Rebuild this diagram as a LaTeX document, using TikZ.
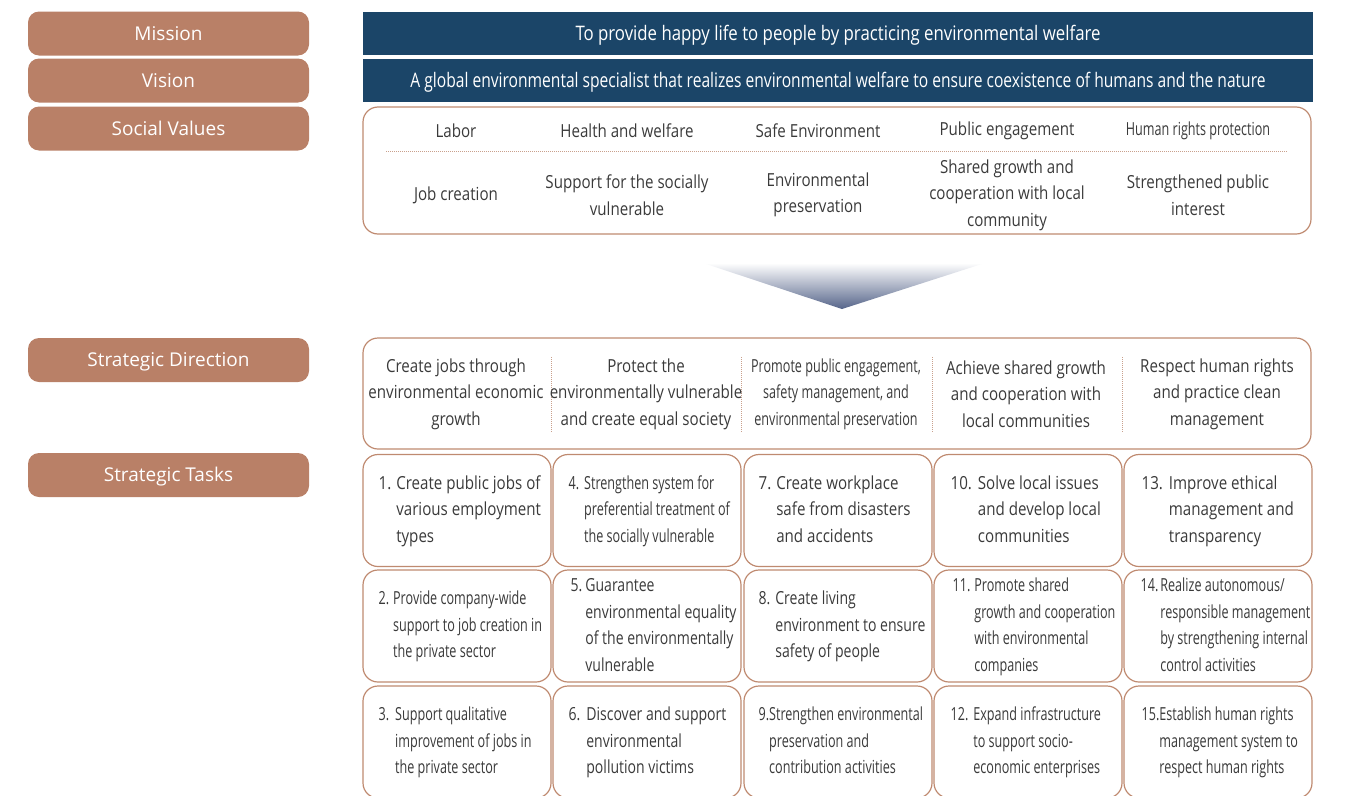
\documentclass[tikz,border=0pt]{standalone}
\usepackage{fontspec}
\setmainfont[FakeStretch=0.84]{Open Sans}
\newfontfamily\labelfont{Open Sans}
\newfontfamily\condfont[FakeStretch=0.78]{Open Sans}
\newfontfamily\narrowfont[FakeStretch=0.70]{Open Sans}
\usepackage{tikz}
\usetikzlibrary{positioning}
\definecolor{labelbrown}{HTML}{B98067}
\definecolor{framebrown}{HTML}{BF8A70}
\definecolor{navy}{HTML}{1B4568}
\definecolor{textgray}{HTML}{3A3A3A}
\definecolor{arrowblue}{HTML}{56658A}
\definecolor{dotbrown}{HTML}{C9A08C}

\begin{document}
\begin{tikzpicture}[x=1pt,y=-1pt,
	every node/.style={inner sep=0pt, text=textgray},
	headbox/.style={rounded corners=11pt, fill=labelbrown, minimum width=281pt, minimum height=44pt, text height=13.6pt, text depth=0pt, text=white, font=\labelfont\fontsize{19}{23}\selectfont},
	banner/.style={fill=navy, minimum width=950pt, minimum height=43pt, text height=14pt, text depth=0pt, text=white, font=\fontsize{20}{24}\selectfont},
	panel/.style={draw=framebrown, line width=1.2pt, rounded corners=15pt, minimum width=948pt},
	task/.style={draw=framebrown, line width=1.2pt, rounded corners=15pt, minimum width=188pt, minimum height=112pt},
	cell/.style={align=center, font=\fontsize{18}{26.5}\selectfont},
	tasktext/.style={font=\fontsize{18}{26.5}\selectfont},
	divider/.style={draw=dotbrown, line width=0.8pt, dash pattern=on 0.8pt off 1.2pt}
]
	\useasboundingbox (0,0) rectangle (1354,795);
	\clip (0,0) rectangle (1354,795);

	\node[headbox] (hmission) at (168.5,33.5) {Mission};
	\node[headbox] (hvision) at (168.5,80.5) {Vision};
	\node[headbox] (hvalues) at (168.5,128.5) {Social Values};
	\node[headbox] (hdirection) at (168.5,360) {Strategic Direction};
	\node[headbox] (htasks) at (168.5,475) {Strategic Tasks};

	\node[banner] (mission) at (838,33.5) {To provide happy life to people by practicing environmental welfare};
	\node[banner] (vision) at (838,80.5) {\condfont A global environmental specialist that realizes environmental welfare to ensure coexistence of humans and the nature};

	\node[panel, minimum height=127pt] (values) at (837,170.5) {};
	\draw[divider] (386,151) -- (1287,151);
	\node[cell] (v1) at (456,131) {Labor};
	\node[cell] (v2) at (627,131) {Health and welfare};
	\node[cell] (v3) at (818,131) {Safe Environment};
	\node[cell] (v4) at (1007,131) {Public engagement};
	\node[cell] (v5) at (1198,131) {\narrowfont Human rights protection};
	\node[cell] (w1) at (456,195) {Job creation};
	\node[cell] (w2) at (627,195) {Support for the socially\\vulnerable};
	\node[cell] (w3) at (818,195) {Environmental\\preservation};
	\node[cell] (w4) at (1007,195) {Shared growth and\\cooperation with local\\community};
	\node[cell] (w5) at (1198,195) {Strengthened public\\interest};

	\shade[top color=white, middle color=arrowblue!28!white, bottom color=arrowblue] (703,263) -- (985,263) -- (842,309) -- cycle;

	\node[panel, minimum height=111pt] (direction) at (837,393.5) {};
	\foreach \x in {551,741,932,1122}
		\draw[divider] (\x,357) -- (\x,432);
	\node[cell] (d1) at (456,394) {Create jobs through\\environmental economic\\growth};
	\node[cell] (d2) at (646,394) {Protect the\\environmentally vulnerable\\and create equal society};
	\node[cell] (d3) at (836,394) {\narrowfont Promote public engagement,\\\narrowfont safety management, and\\\narrowfont environmental preservation};
	\node[cell] (d4) at (1026,394) {Achieve shared growth\\and cooperation with\\local communities};
	\node[cell] (d5) at (1217,394) {Respect human rights\\and practice clean\\management};

	\node[task] (t1) at (457,510.5) {};
	\node[task] (t2) at (457,626) {};
	\node[task] (t3) at (457,742) {};
	\node[task] (t4) at (647,510.5) {};
	\node[task] (t5) at (647,626) {};
	\node[task] (t6) at (647,742) {};
	\node[task] (t7) at (838,510.5) {};
	\node[task] (t8) at (838,626) {};
	\node[task] (t9) at (838,742) {};
	\node[task] (t10) at (1028,510.5) {};
	\node[task] (t11) at (1028,626) {};
	\node[task] (t12) at (1028,742) {};
	\node[task] (t13) at (1218,510.5) {};
	\node[task] (t14) at (1218,626) {};
	\node[task] (t15) at (1218,742) {};

	\node[tasktext, right=16pt of t1.west] (l1) {\begin{tabular}{@{}l@{\hspace{5pt}}l@{}}1.&Create public jobs of\\&various employment\\&types\end{tabular}};
	\node[tasktext, right=16pt of t2.west] (l2) {\narrowfont\begin{tabular}{@{}l@{\hspace{4pt}}l@{}}2.&Provide company-wide\\&support to job creation in\\&the private sector\end{tabular}};
	\node[tasktext, right=16pt of t3.west] (l3) {\narrowfont\begin{tabular}{@{}l@{\hspace{6pt}}l@{}}3.&Support qualitative\\&improvement of jobs in\\&the private sector\end{tabular}};
	\node[tasktext, right=16pt of t4.west] (l4) {\narrowfont\begin{tabular}{@{}l@{\hspace{5pt}}l@{}}4.&Strengthen system for\\&preferential treatment of\\&the socially vulnerable\end{tabular}};
	\node[tasktext, right=18pt of t5.west] (l5) {\condfont\begin{tabular}{@{}l@{\hspace{3pt}}l@{}}5.&Guarantee\\&environmental equality\\&of the environmentally\\&vulnerable\end{tabular}};
	\node[tasktext, right=16pt of t6.west] (l6) {\condfont\begin{tabular}{@{}l@{\hspace{6pt}}l@{}}6.&Discover and support\\&environmental\\&pollution victims\end{tabular}};
	\node[tasktext, right=15pt of t7.west] (l7) {\begin{tabular}{@{}l@{\hspace{5pt}}l@{}}7.&Create workplace\\&safe from disasters\\&and accidents\end{tabular}};
	\node[tasktext, right=15pt of t8.west] (l8) {\condfont\begin{tabular}{@{}l@{\hspace{5pt}}l@{}}8.&Create living\\&environment to ensure\\&safety of people\end{tabular}};
	\node[tasktext, right=15pt of t9.west] (l9) {\narrowfont\begin{tabular}{@{}l@{}l@{}}9.&Strengthen environmental\\&preservation and\\&contribution activities\end{tabular}};
	\node[tasktext, right=17pt of t10.west] (l10) {\begin{tabular}{@{}l@{\hspace{6pt}}l@{}}10.&Solve local issues\\&and develop local\\&communities\end{tabular}};
	\node[tasktext, right=19pt of t11.west] (l11) {\narrowfont\begin{tabular}{@{}l@{\hspace{4pt}}l@{}}11.&Promote shared\\&growth and cooperation\\&with environmental\\&companies\end{tabular}};
	\node[tasktext, right=17pt of t12.west] (l12) {\narrowfont\begin{tabular}{@{}l@{\hspace{5pt}}l@{}}12.&Expand infrastructure\\&to support socio-\\&economic enterprises\end{tabular}};
	\node[tasktext, right=18pt of t13.west] (l13) {\begin{tabular}{@{}l@{\hspace{6pt}}l@{}}13.&Improve ethical\\&management and\\&transparency\end{tabular}};
	\node[tasktext, right=17pt of t14.west] (l14) {\narrowfont\begin{tabular}{@{}l@{\hspace{2pt}}l@{}}14.&Realize autonomous/\\&responsible management\\&by strengthening internal\\&control activities\end{tabular}};
	\node[tasktext, right=18pt of t15.west] (l15) {\narrowfont\begin{tabular}{@{}l@{}l@{}}15.&Establish human rights\\&management system to\\&respect human rights\end{tabular}};
\end{tikzpicture}
\end{document}
